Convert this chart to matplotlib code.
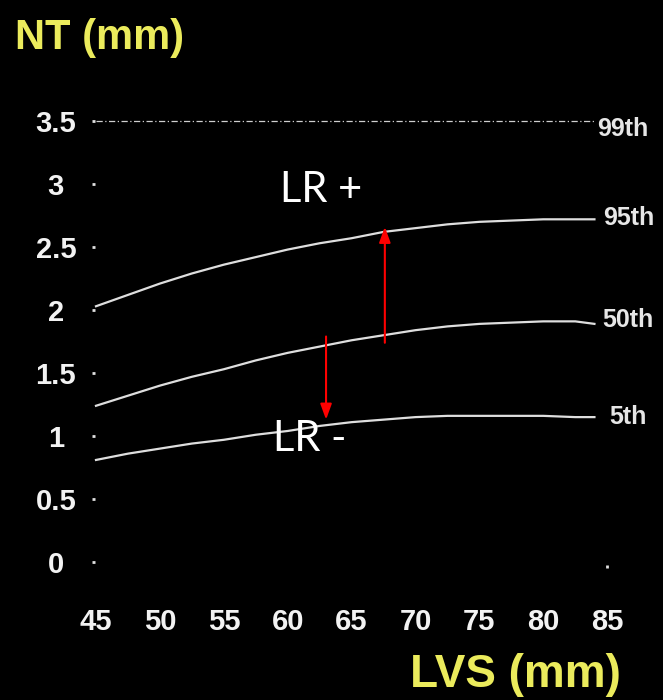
import numpy as np
import matplotlib
matplotlib.use('Agg')
import matplotlib.pyplot as plt

# LVS (mm) positions where the curves were read
lvs = [45, 47.5, 50, 52.5, 55, 57.5, 60, 62.5, 65, 67.5, 70, 72.5, 75, 77.5, 80, 82.5, 84]
p95 = [2.03, 2.12, 2.21, 2.29, 2.36, 2.42, 2.48, 2.53, 2.57, 2.62, 2.65, 2.68, 2.70, 2.71, 2.72, 2.72, 2.72]
p50 = [1.24, 1.32, 1.40, 1.47, 1.53, 1.60, 1.66, 1.71, 1.76, 1.80, 1.84, 1.87, 1.89, 1.90, 1.91, 1.91, 1.89]
p05 = [0.81, 0.86, 0.90, 0.94, 0.97, 1.01, 1.04, 1.08, 1.11, 1.13, 1.15, 1.16, 1.16, 1.16, 1.16, 1.15, 1.15]
p99_x = [45, 84]
p99_y = [3.5, 3.5]

curve_labels = ['99th', '95th', '50th', '5th']
label_x = [84.2, 84.65, 84.65, 85.2]
label_y = [3.44, 2.73, 1.92, 1.15]

xticks = [45, 50, 55, 60, 65, 70, 75, 80, 85]
yticks = [0, 0.5, 1, 1.5, 2, 2.5, 3, 3.5]
ytick_labels = ['0', '0.5', '1', '1.5', '2', '2.5', '3', '3.5']

# red arrows: (x, tail y, tip y)
arrow_up = (67.6, 1.74, 2.66)
arrow_down = (63.0, 1.79, 1.13)

fig = plt.figure(figsize=(6.63, 7.0), dpi=100, facecolor='black')
ax = fig.add_axes([92/663, (700-568)/700, (660-92)/663, (568-100)/700])
ax.set_facecolor('black')
ax.set_xlim(44.687, 89.13)
ax.set_ylim(-0.0476, 3.667)
for s in ax.spines.values():
    s.set_visible(False)

line_col = '#dedede'
ax.plot(lvs, p95, color=line_col, lw=1.6)
ax.plot(lvs, p50, color=line_col, lw=1.6)
ax.plot(lvs, p05, color=line_col, lw=1.6)
ax.plot(p99_x, p99_y, color='#cfcfcf', lw=0.9, linestyle=(0, (5, 2, 1, 2)))

for lab, lx, ly in zip(curve_labels, label_x, label_y):
    ax.text(lx, ly, lab, color='#e6e6e6', fontsize=18, family='Liberation Sans',
            weight='bold', va='center', ha='left', clip_on=False)

tick_font = dict(family='Liberation Sans', weight='bold', size=21)
ax.set_yticks(yticks)
ax.set_yticklabels(ytick_labels, **tick_font, color='#f2f2f2')
for t in ax.get_yticklabels():
    t.set_ha('center')
ax.tick_params(axis='y', direction='in', length=2.5, width=2, color='#e0e0e0', pad=26)

ax.set_xticks(xticks)
ax.set_xticklabels([str(v) for v in xticks], **tick_font, color='#f2f2f2')
ax.tick_params(axis='x', direction='in', length=0, width=2, color='#e0e0e0', pad=29)
last = ax.xaxis.get_major_ticks()[-1]
last.tick1line.set_markersize(2.5)

for ax_x, y0, y1 in [arrow_up, arrow_down]:
    ax.annotate('', xy=(ax_x, y1), xytext=(ax_x, y0),
                arrowprops=dict(arrowstyle='-|>,head_length=0.55,head_width=0.2',
                                color='#ff0000', lw=1.5, mutation_scale=17,
                                shrinkA=0, shrinkB=0))

ax.text(62.6, 2.95, 'LR +', color='white', fontsize=30, family='Lato',
        ha='center', va='center')
ax.text(61.7, 0.98, 'LR -', color='white', fontsize=30, family='Lato',
        ha='center', va='center')

yellow = '#ebeb5c'
fig.text(15/663, 1 - 38/700, 'NT (mm)', color=yellow, fontsize=30,
         family='Liberation Sans', weight='bold', ha='left', va='center')
fig.text(410/663, 1 - 675/700, 'LVS (mm)', color=yellow, fontsize=33,
         family='Liberation Sans', weight='bold', ha='left', va='center')

fig.savefig('out.png', dpi=100, facecolor='black')
